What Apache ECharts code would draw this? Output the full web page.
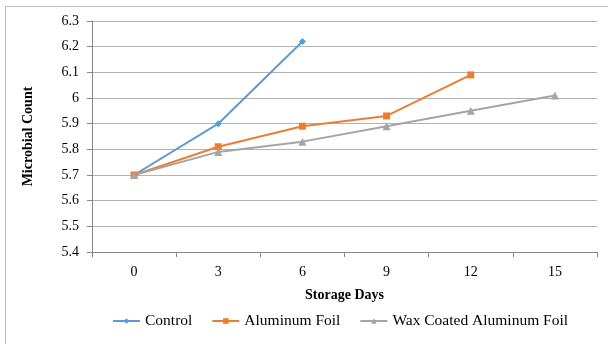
<!DOCTYPE html>
<html>
<head>
<meta charset="utf-8">
<script src="https://cdn.jsdelivr.net/npm/echarts@6/dist/echarts.min.js"></script>
<style>
  html, body { margin: 0; padding: 0; background: #fff; }
  #box { position: absolute; left: 5px; top: 6px; width: 610px; height: 345px; border: 1px solid #bfbfbf; box-sizing: border-box; }
  #chart { width: 608px; height: 344px; }
</style>
</head>
<body>
<div id="box"></div>
<div id="chart"></div>
<script>
// storage days (x categories)
const days = ['0', '3', '6', '9', '12', '15']
// microbial count per treatment
const control = [5.70, 5.90, 6.22]
const aluminumFoil = [5.70, 5.81, 5.89, 5.93, 6.09]
const waxCoatedFoil = [5.70, 5.79, 5.83, 5.89, 5.95, 6.01]

const font = 'Liberation Serif'
const myChart = echarts.init(document.getElementById('chart'))

const mkSeries = (name, data, color, symbol, size) => ({
  name: name,
  type: 'line',
  data: data,
  symbol: symbol,
  symbolSize: size,
  showSymbol: true,
  lineStyle: { color: color, width: 2 },
  itemStyle: { color: color },
  animation: false
})

const option = {
  textStyle: { fontFamily: font },
  grid: { left: 92, right: 11, top: 21, bottom: 92 },
  legend: {
    bottom: 10,
    left: 107,
    itemWidth: 27,
    itemHeight: 7,
    itemGap: 19,
    textStyle: { fontFamily: font, fontSize: 15.5, color: '#000' },
    data: ['Control', 'Aluminum Foil', 'Wax Coated Aluminum Foil']
  },
  xAxis: {
    type: 'category',
    data: days,
    boundaryGap: true,
    name: 'Storage Days',
    nameLocation: 'middle',
    nameGap: 36,
    nameTextStyle: { fontFamily: font, fontWeight: 'bold', fontSize: 14, color: '#000' },
    axisLine: { lineStyle: { color: '#868686' } },
    axisTick: { show: true, length: 5, alignWithLabel: false, lineStyle: { color: '#868686' } },
    axisLabel: { fontFamily: font, fontSize: 14, color: '#000', margin: 13 }
  },
  yAxis: {
    type: 'value',
    min: 5.4,
    max: 6.3,
    interval: 0.1,
    name: 'Microbial Count',
    nameLocation: 'middle',
    nameGap: 57,
    nameTextStyle: { fontFamily: font, fontWeight: 'bold', fontSize: 14, color: '#000' },
    axisLine: { show: true, lineStyle: { color: '#868686' } },
    axisTick: { show: true, length: 5, lineStyle: { color: '#868686' } },
    axisLabel: {
      fontFamily: font, fontSize: 14, color: '#000', margin: 13,
      formatter: v => String(Math.round(v * 10) / 10)
    },
    splitLine: { lineStyle: { color: '#b3b3b3', width: 1 } }
  },
  series: [
    mkSeries('Control', control, '#5B9BD5', 'diamond', 7),
    mkSeries('Aluminum Foil', aluminumFoil, '#ED7D31', 'rect', 7),
    mkSeries('Wax Coated Aluminum Foil', waxCoatedFoil, '#A5A5A5', 'triangle', 8)
  ]
}

myChart.setOption(option)
</script>
</body>
</html>
